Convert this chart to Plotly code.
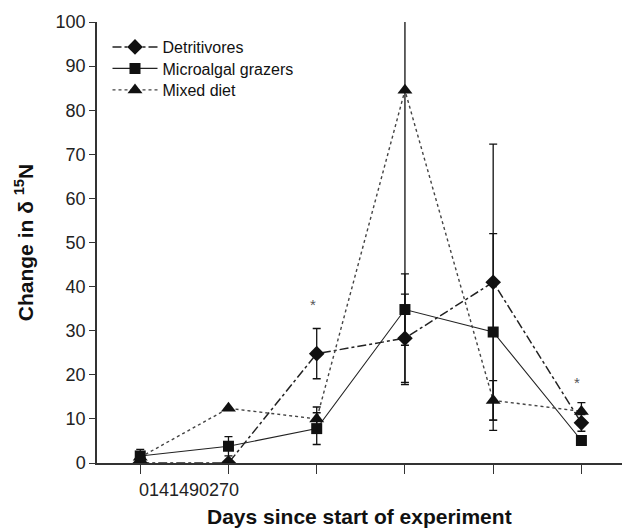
import plotly.graph_objects as go

# ---- data ----
days = ["0", "1", "4", "14", "90", "270"]
detritivores = [0, 0, 24.8, 28.3, 41.0, 9.1]
detritivores_err = [0, 0, 5.7, 10.0, 31.3, 1.9]
microalgal = [1.6, 3.8, 7.8, 34.8, 29.7, 5.1]
microalgal_err = [1.5, 2.2, 3.6, 8.1, 22.3, 0.6]
mixed = [1.3, 12.4, 10.0, 84.5, 14.2, 11.7]
mixed_err = [0, 0, 2.7, 66.7, 4.5, 2.0]
sig_idx = [2, 5]
sig_y = [36.0, 18.3]
y_ticks = [0, 10, 20, 30, 40, 50, 60, 70, 80, 90, 100]

FONT = "Liberation Sans, Arial, sans-serif"
xi = list(range(len(days)))

fig = go.Figure()

def add(name, y, err, symbol, size, dash, lw, color, legend):
    fig.add_trace(go.Scatter(
        x=xi, y=y, name=name, mode="lines+markers", legend=legend,
        line=dict(color=color, width=lw, dash=dash),
        marker=dict(symbol=symbol, size=size, color="#111111"),
        error_y=dict(type="data", array=err, visible=True, color="#111111",
                     thickness=1.3, width=4),
    ))

add("Detritivores", detritivores, detritivores_err, "diamond", 12, "dashdot", 1.5, "#222222", "legend")
add("Microalgal grazers", microalgal, microalgal_err, "square", 11, "solid", 1.1, "#222222", "legend2")
add("Mixed diet", mixed, mixed_err, "triangle-up", 13, "dot", 1.4, "#444444", "legend3")

for i, yv in zip(sig_idx, sig_y):
    fig.add_annotation(x=i, y=yv, text="*", showarrow=False, xshift=-4,
                       font=dict(family=FONT, size=15, color="#555555"))

# concatenated category labels as drawn in the original
fig.add_annotation(x=0.55, xref="x", y=0, yref="paper", yshift=-27,
                   yanchor="middle", text="".join(days), showarrow=False,
                   font=dict(family=FONT, size=18, color="#222222"))
fig.add_annotation(x=0.5, xref="paper", y=0, yref="paper", yshift=-53,
                   yanchor="middle",
                   text="<b>Days since start of experiment</b>", showarrow=False,
                   font=dict(family=FONT, size=21, color="#111111"))

def leg(py):
    return dict(x=0.02, y=1 - (py - 22) / 441, xanchor="left", yanchor="middle",
                itemwidth=45, font=dict(family=FONT, size=16, color="#111111"),
                bgcolor="rgba(0,0,0,0)")

fig.update_layout(
    width=622, height=528,
    margin=dict(l=97, r=0, t=22, b=65),
    paper_bgcolor="white", plot_bgcolor="white",
    font=dict(family=FONT, size=18, color="#222222"),
    showlegend=True,
    legend=leg(47), legend2=leg(68.5), legend3=leg(90),
    xaxis=dict(range=[-0.49, 5.46], tickvals=xi, ticktext=[""] * len(xi),
               showticklabels=False, ticks="outside", ticklen=9, tickwidth=1.3,
               tickcolor="#333333", showline=True, linecolor="#333333",
               linewidth=1.5, showgrid=False, zeroline=False),
    yaxis=dict(range=[0, 100], tickvals=y_ticks, ticks="outside", ticklen=6,
               tickwidth=1.3, tickcolor="#333333", showline=True,
               linecolor="#333333", linewidth=1.5, showgrid=False,
               zeroline=False, tickfont=dict(size=18),
               title=dict(text="<b>Change in δ <sup>15</sup>N</b>",
                          font=dict(family=FONT, size=21, color="#111111"),
                          standoff=16)),
)

fig.write_html("out.html")
